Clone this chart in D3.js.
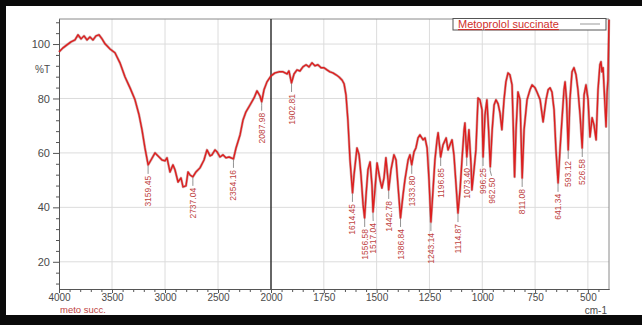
<!DOCTYPE html>
<html>
<head>
<meta charset="utf-8">
<script src="https://cdn.jsdelivr.net/npm/d3@7/dist/d3.min.js"></script>
<style>
  html, body { margin: 0; padding: 0; background: #fff; }
  svg { display: block; font-family: "Liberation Sans", Arial, sans-serif; }
</style>
</head>
<body>
<svg id="vis"></svg>
<script>
// ---- data (wavenumber cm-1, %T) ----
var wavenumbers = [4000,3962,3925,3887,3849,3821,3792,3764,3736,3708,3679,3651,3623,3594,3566,3519,3472,3425,3377,3330,3283,3245,3217,3189,3159,3132,3094,3066,3028,3000,2981,2953,2925,2906,2877,2849,2830,2802,2783,2764,2737,2708,2670,2632,2604,2575,2557,2528,2509,2481,2453,2425,2396,2354,2330,2292,2264,2236,2198,2160,2132,2104,2088,2066,2038,2000,
  1981,1962,1943,1924,1915,1903,1891,1877,1863,1849,1834,1820,1806,1792,1778,1763,1749,1735,1721,1707,1692,1678,1664,1654,1645,1636,1626,1614,1607,1593,1583,1574,1564,1557,1550,1541,1531,1522,1517,1508,1498,1484,1475,1465,1456,1446,1443,1432,1418,1408,1399,1387,1375,1366,1351,1342,1334,1323,1314,1304,1295,1280,1271,1261,1252,1243,1233,1224,1214,1209,1200,1197,1186,1171,1162,1153,1143,1134,1124,1115,1105,1096,1086,1082,1073,1063,1053,1049,1039,1030,1020,1011,1001,996,987,978,970,962,953,944,935,925,916,907,897,888,878,869,859,854,847,840,831,821,811,802,788,774,764,750,741,726,712,698,688,679,670,660,651,641,632,622,613,608,601,593,585,575,566,556,547,537,527,518,509,499,490,480,471,461,452,443,438,433,428,424,414,409,405,400];
var transmittance = [97.1,98.6,99.7,100.8,101.5,103.4,101.9,103.0,101.5,102.6,101.5,103.0,103.4,101.9,100.1,98.2,96.8,93.1,87.9,83.9,79.5,74.0,68.5,61.8,55.6,57.4,60.0,58.9,57.4,57.1,58.2,53.0,55.6,53.8,49.3,50.8,47.5,47.9,53.0,51.9,51.2,53.0,54.5,57.4,61.1,58.9,59.3,61.1,60.4,58.5,59.3,58.2,58.5,57.8,61.8,66.6,72.1,75.1,77.6,80.2,82.8,80.9,78.8,83.2,86.1,88.3,
  89.4,89.8,89.8,89.0,90.1,85.7,89.0,90.5,90.1,91.6,92.4,91.6,93.1,92.0,92.4,91.3,91.3,90.5,89.8,89.4,88.7,87.9,86.8,85.4,81.3,72.1,57.4,45.3,51.9,61.8,59.3,51.9,40.9,36.1,44.6,53.8,56.7,48.2,38.3,46.4,56.3,50.1,47.1,50.8,58.2,50.1,46.4,53.8,59.3,57.4,48.2,36.1,44.6,50.1,57.4,59.3,55.6,60.4,61.8,65.5,66.6,64.8,65.5,61.8,50.1,34.6,46.4,57.4,64.8,67.4,61.1,58.5,62.9,65.5,61.1,62.9,64.8,59.3,48.2,37.9,46.4,57.4,68.5,71.0,58.5,68.5,55.6,46.4,53.8,61.1,80.2,79.5,75.8,58.5,74.0,79.5,68.5,54.9,68.5,77.6,79.5,78.0,74.7,68.5,79.5,86.1,89.4,88.7,85.0,72.1,51.2,68.5,82.4,79.5,50.8,68.5,79.5,83.2,85.0,83.9,82.4,79.5,71.4,79.5,83.2,83.9,82.4,75.8,61.1,49.0,61.1,72.9,83.2,86.1,79.5,61.1,79.5,89.8,91.3,88.7,83.2,74.0,61.8,81.3,85.0,79.5,65.9,72.9,70.3,64.8,83.2,92.4,93.5,89.8,91.3,85.0,69.6,82.4,86.8,108.9];

// labelled peaks
var peakWn = [3159.45,2737.04,2354.16,2087.98,1902.81,1614.45,1556.58,1517.04,1442.78,1386.84,1333.80,1243.14,1196.85,1114.87,1073.40,996.25,962.50,811.08,641.34,593.12,526.58];
var peakT  = [55.6,51.2,57.8,78.8,85.7,45.3,36.1,38.3,46.4,36.1,55.6,34.6,58.5,37.9,58.5,58.5,54.9,50.8,49.0,61.1,61.8];

// axis ticks
var xMajor = [4000,3500,3000,2500,2000,1750,1500,1250,1000,750,500];
var yMajor = [20,40,60,80,100];

var W = 642, H = 325;
var svg = d3.select("svg#vis").attr("width", W).attr("height", H);

// frame: black border on top, left and bottom
svg.append("rect").attr("width", W).attr("height", H).attr("fill", "#0a0a0a");
svg.append("rect").attr("x", 6).attr("y", 6).attr("width", W - 6).attr("height", 309).attr("fill", "#fff");

// split x scale: 2x expansion below 2000 cm-1
var x = d3.scaleLinear().domain([4000, 2000, 400]).range([59, 271, 609]);
var y = d3.scaleLinear().domain([10, 109.2]).range([289, 19]);

var xMinor = d3.range(3900, 2000, -100).concat(d3.range(1950, 400, -50)).filter(function(v) { return xMajor.indexOf(v) < 0; });
var yMinor = d3.range(12, 110, 4).filter(function(v) { return yMajor.indexOf(v) < 0; });

// grid
var grid = svg.append("g").attr("class", "grid");
grid.selectAll("line.gx").data(xMajor.filter(function(v) { return v !== 4000 && v !== 2000; }))
  .enter().append("line").attr("class", "gx")
  .attr("x1", function(d) { return x(d); }).attr("x2", function(d) { return x(d); })
  .attr("y1", y(109.2)).attr("y2", y(10))
  .attr("stroke", "#dcdcdc").attr("stroke-width", 1);
grid.selectAll("line.gy").data(yMajor)
  .enter().append("line").attr("class", "gy")
  .attr("x1", x(4000)).attr("x2", x(400))
  .attr("y1", function(d) { return y(d); }).attr("y2", function(d) { return y(d); })
  .attr("stroke", "#dcdcdc").attr("stroke-width", 1);

// plot frame (top and right)
svg.append("path")
  .attr("d", "M" + x(4000) + "," + y(109.2) + "H" + x(400) + "V" + y(10))
  .attr("fill", "none").attr("stroke", "#8a8a8a").attr("stroke-width", 1);

// split marker at 2000
svg.append("line")
  .attr("x1", x(2000)).attr("x2", x(2000)).attr("y1", y(109.2)).attr("y2", y(10))
  .attr("stroke", "#333").attr("stroke-width", 1.5);

// axes
var xAxis = svg.append("g").attr("transform", "translate(0," + y(10) + ")")
  .call(d3.axisBottom(x).tickValues(xMajor).tickSize(4).tickSizeOuter(0).tickPadding(1).tickFormat(d3.format("d")));
svg.append("g").attr("transform", "translate(0," + y(10) + ")")
  .call(d3.axisBottom(x).tickValues(xMinor).tickSize(3).tickSizeOuter(0).tickFormat(""));
var yAxis = svg.append("g").attr("transform", "translate(" + x(4000) + ",0)")
  .call(d3.axisLeft(y).tickValues(yMajor).tickSize(6).tickSizeOuter(0).tickPadding(3));
svg.append("g").attr("transform", "translate(" + x(4000) + ",0)")
  .call(d3.axisLeft(y).tickValues(yMinor).tickSize(3).tickSizeOuter(0).tickFormat(""));

svg.selectAll(".domain").attr("stroke", "#555");
svg.selectAll(".tick line").attr("stroke", "#555");
xAxis.selectAll("text").attr("fill", "#4a4a4a").style("font-size", "10px").style("font-family", "Liberation Sans, Arial, sans-serif");
yAxis.selectAll("text").attr("fill", "#4a4a4a").style("font-size", "11px").style("font-family", "Liberation Sans, Arial, sans-serif");

svg.append("text").text("%T")
  .attr("x", x(4000) - 9).attr("y", y(90.5)).attr("dy", "0.35em")
  .attr("text-anchor", "end").attr("fill", "#4a4a4a").style("font-size", "10px");

svg.append("text").text("cm-1")
  .attr("x", x(400) - 2).attr("y", 313.5)
  .attr("text-anchor", "end").attr("fill", "#4a4a4a").style("font-size", "10px");

svg.append("text").text("meto succ.")
  .attr("x", x(4000) + 1).attr("y", 313)
  .attr("fill", "#c0443f").style("font-size", "9.5px");

// spectrum
var spectrum = wavenumbers.map(function(w, i) { return {wn: w, t: transmittance[i]}; });
var line = d3.line().x(function(d) { return x(d.wn); }).y(function(d) { return y(d.t); });

svg.append("path").datum(spectrum)
  .attr("d", line).attr("fill", "none")
  .attr("stroke", "#9a4545").attr("stroke-width", 2.6).attr("stroke-opacity", 0.45)
  .attr("stroke-linejoin", "round");
svg.append("path").datum(spectrum)
  .attr("d", line).attr("fill", "none")
  .attr("stroke", "#dd1f1f").attr("stroke-width", 1.4)
  .attr("stroke-linejoin", "round");

// peak labels, nudged apart where crowded
var peaks = peakWn.map(function(w, i) {
  return {wn: w, t: peakT[i], px: x(w), py: y(peakT[i])};
}).sort(function(a, b) { return a.px - b.px; });
var minGap = 8.5;
peaks.forEach(function(p, i) {
  p.lx = p.px;
  if (i > 0 && p.lx - peaks[i - 1].lx < minGap) p.lx = peaks[i - 1].lx + minGap;
});

var labels = svg.append("g").attr("class", "peaks");
var pg = labels.selectAll("g").data(peaks).enter().append("g");
pg.append("path")
  .attr("d", function(d) { return "M" + d.px + "," + (d.py + 1) + "L" + d.px + "," + (d.py + 4) + "L" + d.lx + "," + (d.py + 9); })
  .attr("fill", "none").attr("stroke", "#777").attr("stroke-width", 0.8);
pg.append("text")
  .text(function(d) { return d.wn.toFixed(2); })
  .attr("transform", function(d) { return "translate(" + d.lx + "," + (d.py + 11) + ") rotate(-90)"; })
  .attr("text-anchor", "end").attr("dy", "0.35em")
  .attr("fill", "#c0443f").style("font-size", "8.5px");

// legend
var legend = svg.append("g");
legend.append("rect")
  .attr("x", 453).attr("y", 18.5).attr("width", 153).attr("height", 11.5)
  .attr("fill", "#fff").attr("stroke", "#555").attr("stroke-width", 1);
legend.append("text").text("Metoprolol succinate")
  .attr("x", 458).attr("y", 28)
  .attr("fill", "#d0302c").style("font-size", "11px")
  .style("text-decoration", "underline");
legend.append("line")
  .attr("x1", 580).attr("x2", 600).attr("y1", 24).attr("y2", 24)
  .attr("stroke", "#999").attr("stroke-width", 1);
</script>
</body>
</html>
